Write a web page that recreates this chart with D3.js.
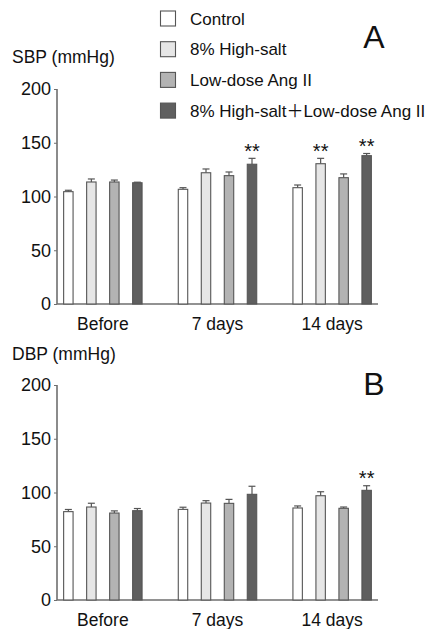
<!DOCTYPE html>
<html>
<head>
<meta charset="utf-8">
<script src="https://cdn.jsdelivr.net/npm/d3@7"></script>
<style>
  body { margin: 0; background: #fff; }
  text { font-family: "Liberation Sans", Arial, sans-serif; fill: #111; }
</style>
</head>
<body>
<div id="chart"></div>
<script>
// dados
var grupos = ['Before', '7 days', '14 days'];
var series = ['Control', '8% High-salt', 'Low-dose Ang II', '8% High-salt\uFF0BLow-dose Ang II'];
var cores = ['#ffffff', '#e6e6e6', '#b3b3b3', '#5f5f5f'];
var yTicks = [0, 50, 100, 150, 200];

// SBP: [grupo][serie]
var sbp = [[104.5, 113.5, 113.5, 112.8], [106.7, 122.1, 119.4, 130], [108.2, 130.5, 117.5, 138]];
var sbpErr = [[1.3, 2.8, 1.8, 0.5], [1.5, 3.5, 3.4, 5.5], [2.5, 5, 3.5, 2]];
var sbpSig = [[0, 0, 0, 0], [0, 0, 0, 1], [0, 1, 0, 1]];

// DBP
var dbp = [[82.2, 86.5, 80.9, 83.1], [84.3, 90.2, 89.9, 98.3], [85.6, 97, 85.3, 102]];
var dbpErr = [[2, 3.5, 2, 2], [2, 2.2, 3.7, 7.5], [1.9, 3.7, 1.2, 4.3]];
var dbpSig = [[0, 0, 0, 0], [0, 0, 0, 0], [0, 0, 0, 1]];

var largura = 428, altura = 629;
var svg = d3.select('#chart').append('svg')
    .attr('width', largura)
    .attr('height', altura);

var x0 = d3.scalePoint().domain(grupos).range([57, 378]).padding(0.4);
var x1 = d3.scaleBand().domain(d3.range(series.length)).range([-46, 46])
    .paddingInner(0.59).paddingOuter(0.295);

// desenha um painel
function painel(topo, base, titulo, letra, vals, errs, sigs, yTitulo, yLetra) {
    var y = d3.scaleLinear().domain([0, 200]).range([base, topo]);
    var g = svg.append('g');

    // eixo y
    var eixoY = g.append('g').attr('transform', 'translate(57,0)')
        .call(d3.axisLeft(y).tickValues(yTicks).tickSize(3).tickPadding(3));
    eixoY.select('.domain').attr('stroke', '#6e6e6e').attr('stroke-width', 1.6).attr('d', 'M0,' + y(200) + 'V' + y(0));
    eixoY.selectAll('.tick line').attr('stroke', '#6e6e6e');
    eixoY.selectAll('.tick text').style('font-size', '18px').attr('fill', '#111');

    // eixo x
    g.append('line')
        .attr('x1', 57).attr('x2', 378)
        .attr('y1', y(0)).attr('y2', y(0))
        .attr('stroke', '#6e6e6e').attr('stroke-width', 1.6);

    g.selectAll('.xlab').data(grupos).enter().append('text')
        .attr('x', function (d) { return x0(d); })
        .attr('y', y(0) + 26)
        .attr('text-anchor', 'middle')
        .style('font-size', '17.5px')
        .text(function (d) { return d; });

    grupos.forEach(function (gr, i) {
        var gg = g.append('g').attr('transform', 'translate(' + x0(gr) + ',0)');
        vals[i].forEach(function (v, j) {
            var cx = x1(j) + x1.bandwidth() / 2;
            var topoErr = y(v + errs[i][j]);
            // barra de erro (só para cima)
            gg.append('line')
                .attr('x1', cx).attr('x2', cx)
                .attr('y1', y(v)).attr('y2', topoErr)
                .attr('stroke', '#555').attr('stroke-width', 1.2);
            gg.append('line')
                .attr('x1', cx - 3.5).attr('x2', cx + 3.5)
                .attr('y1', topoErr).attr('y2', topoErr)
                .attr('stroke', '#555').attr('stroke-width', 1.2);
            gg.append('rect')
                .attr('x', x1(j))
                .attr('y', y(v))
                .attr('width', x1.bandwidth())
                .attr('height', y(0) - y(v))
                .attr('fill', cores[j])
                .attr('stroke', '#555')
                .attr('stroke-width', 1.1);
            if (sigs[i][j]) {
                gg.append('text')
                    .attr('x', cx)
                    .attr('y', topoErr - 0.5)
                    .attr('text-anchor', 'middle')
                    .style('font-size', '20px')
                    .text('**');
            }
        });
    });

    svg.append('text').attr('x', 12).attr('y', yTitulo)
        .style('font-size', '17.5px').text(titulo);
    svg.append('text').attr('x', 374).attr('y', yLetra)
        .attr('text-anchor', 'middle')
        .style('font-size', '32px').text(letra);
}

painel(89, 304, 'SBP (mmHg)', 'A', sbp, sbpErr, sbpSig, 63, 48);
painel(385, 600, 'DBP (mmHg)', 'B', dbp, dbpErr, dbpSig, 360, 395);

// legenda
var leg = svg.append('g').selectAll('g').data(series).enter().append('g')
    .attr('transform', function (d, i) { return 'translate(160,' + (18.5 + i * 30.7) + ')'; });
leg.append('rect')
    .attr('x', 0.5).attr('y', -7.5)
    .attr('width', 15).attr('height', 15)
    .attr('fill', function (d, i) { return cores[i]; })
    .attr('stroke', '#555').attr('stroke-width', 1.1);
leg.append('text')
    .attr('x', 30).attr('y', 6)
    .style('font-size', '17px')
    .each(function (d) {
        // o "＋" de largura cheia vem de uma fonte CJK
        var partes = d.split('\uFF0B');
        var t = d3.select(this);
        partes.forEach(function (p, k) {
            if (k > 0) {
                t.append('tspan').style('font-family', '"Noto Sans CJK JP"').text('\uFF0B');
            }
            t.append('tspan').text(p);
        });
    });
</script>
</body>
</html>
